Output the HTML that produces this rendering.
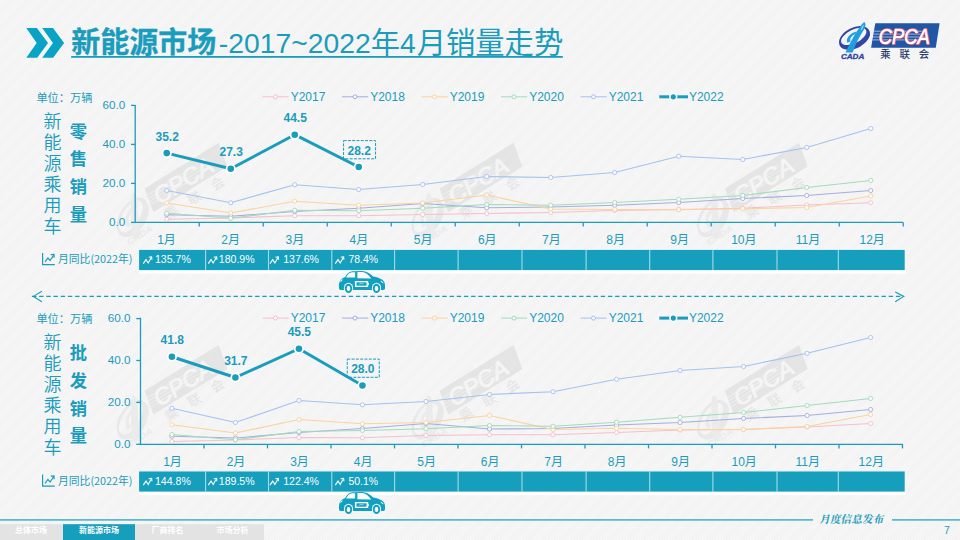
<!DOCTYPE html>
<html lang="zh"><head><meta charset="utf-8"><title>新能源市场-2017~2022年4月销量走势</title>
<style>
html,body{margin:0;padding:0;}
body{width:960px;height:540px;overflow:hidden;background:#f4f4f4;}
#s{position:relative;width:960px;height:540px;overflow:hidden;
background:repeating-linear-gradient(135deg,#f7f7f7 0,#f7f7f7 1px,#f2f2f2 1px,#f2f2f2 2px);
font-family:"Liberation Sans","Noto Sans CJK SC",sans-serif;color:#1a9cbc;}
svg text{font-family:"Liberation Sans","Noto Sans CJK SC",sans-serif;fill:#1a9cbc;}
svg text.dl{font-weight:bold;font-size:12px;}
svg text.lg{font-size:12px;}
svg text.ax{font-size:11.7px;}
svg text.mo{font-size:12px;}
svg text.tb{font-size:11px;fill:#fff;}
svg text.rl{font-size:11px;font-family:"Noto Sans CJK SC","Liberation Sans",sans-serif;}
.abs{position:absolute;white-space:nowrap;line-height:1;}
#title{left:71.3px;top:28.2px;font-size:29px;line-height:30px;height:30px;}
#title b{font-weight:bold;-webkit-text-stroke:0.3px #1a9cbc;}
#title i{font-style:normal;font-size:28.3px;}
#title u{text-decoration:none;font-size:29.3px;}
.unit{font-size:11.2px;left:36.4px;}
.v1{font-size:18px;font-weight:350;width:18px;text-align:center;line-height:21px;left:43.5px;white-space:normal;word-break:break-all;}
.v2{font-size:17.3px;font-weight:bold;width:18px;text-align:center;line-height:27.8px;left:69.3px;white-space:normal;word-break:break-all;}
.tab{font-size:8px;font-weight:bold;color:#fff;top:527.4px;width:72px;text-align:center;}
#ft{left:820px;top:513.6px;font-family:"Noto Serif CJK SC","Liberation Serif",serif;font-weight:bold;font-size:10.6px;transform:skewX(-12deg);letter-spacing:0.1px;}
#pg{left:944px;top:524.6px;font-size:10.5px;}
</style></head><body><div id="s">
<svg width="960" height="540" viewBox="0 0 960 540" style="position:absolute;left:0;top:0">
<g transform="translate(144.7 188.4) rotate(-31.7)" opacity="0.48">
<path d="M0 0 L87 0 L81.8 24.9 L-5.2 24.9Z" fill="#d4d4d4"/>
<path d="M-1.4 7.4H58M-2 10.6H58M-2.6 13.8H58M-3.2 17H58" stroke="#e8e8e8" stroke-width="1"/>
<text x="4" y="21.6" font-family="'Liberation Sans',sans-serif" font-style="italic" font-size="23" style="fill:#f6f6f6" stroke="#f6f6f6" stroke-width="0.9" textLength="66" lengthAdjust="spacingAndGlyphs">CPCA</text>
<text x="3.5" y="39" font-family="'Noto Sans CJK SC',sans-serif" font-size="13.5" font-weight="500" style="fill:#d6d6d6" letter-spacing="13.6">乘联会</text>
<g transform="rotate(-27 -25.5 18.5)"><path fill-rule="evenodd" fill="#dcdcdc" d="M-47.1 18.5a21.6 13.4 0 1 0 43.2 0a21.6 13.4 0 1 0 -43.2 0Z M-43.4 16.3a17.9 8.7 0 1 0 35.8 0a17.9 8.7 0 1 0 -35.8 0Z"/></g>
<path d="M-12.6 -2.4 C-9.6 -0.4 -11 5 -14.6 10.2 C-19.2 17.4 -23.6 26.2 -27.7 37.2 L-36.9 37.2 C-32 26.8 -27.2 17.6 -22.2 10.2 C-19 5 -16 -0.4 -12.6 -2.4Z" fill="#e2e2e2"/>
<path d="M-34.6 24.8 C-36.8 18.4 -31 12.2 -22.4 9.8 L-24.2 13.4 C-29.2 15.4 -31.6 19.2 -30.2 23.2Z" fill="#e2e2e2"/>
<text x="-43.5" y="40.2" font-family="'Liberation Sans',sans-serif" font-style="italic" font-weight="bold" font-size="8.4" style="fill:#e0e0e0" textLength="29" lengthAdjust="spacingAndGlyphs">CADA</text>
</g>

<g transform="translate(439.6 188.4) rotate(-31.7)" opacity="0.48">
<path d="M0 0 L87 0 L81.8 24.9 L-5.2 24.9Z" fill="#d4d4d4"/>
<path d="M-1.4 7.4H58M-2 10.6H58M-2.6 13.8H58M-3.2 17H58" stroke="#e8e8e8" stroke-width="1"/>
<text x="4" y="21.6" font-family="'Liberation Sans',sans-serif" font-style="italic" font-size="23" style="fill:#f6f6f6" stroke="#f6f6f6" stroke-width="0.9" textLength="66" lengthAdjust="spacingAndGlyphs">CPCA</text>
<text x="3.5" y="39" font-family="'Noto Sans CJK SC',sans-serif" font-size="13.5" font-weight="500" style="fill:#d6d6d6" letter-spacing="13.6">乘联会</text>
<g transform="rotate(-27 -25.5 18.5)"><path fill-rule="evenodd" fill="#dcdcdc" d="M-47.1 18.5a21.6 13.4 0 1 0 43.2 0a21.6 13.4 0 1 0 -43.2 0Z M-43.4 16.3a17.9 8.7 0 1 0 35.8 0a17.9 8.7 0 1 0 -35.8 0Z"/></g>
<path d="M-12.6 -2.4 C-9.6 -0.4 -11 5 -14.6 10.2 C-19.2 17.4 -23.6 26.2 -27.7 37.2 L-36.9 37.2 C-32 26.8 -27.2 17.6 -22.2 10.2 C-19 5 -16 -0.4 -12.6 -2.4Z" fill="#e2e2e2"/>
<path d="M-34.6 24.8 C-36.8 18.4 -31 12.2 -22.4 9.8 L-24.2 13.4 C-29.2 15.4 -31.6 19.2 -30.2 23.2Z" fill="#e2e2e2"/>
<text x="-43.5" y="40.2" font-family="'Liberation Sans',sans-serif" font-style="italic" font-weight="bold" font-size="8.4" style="fill:#e0e0e0" textLength="29" lengthAdjust="spacingAndGlyphs">CADA</text>
</g>

<g transform="translate(725 188.4) rotate(-31.7)" opacity="0.48">
<path d="M0 0 L87 0 L81.8 24.9 L-5.2 24.9Z" fill="#d4d4d4"/>
<path d="M-1.4 7.4H58M-2 10.6H58M-2.6 13.8H58M-3.2 17H58" stroke="#e8e8e8" stroke-width="1"/>
<text x="4" y="21.6" font-family="'Liberation Sans',sans-serif" font-style="italic" font-size="23" style="fill:#f6f6f6" stroke="#f6f6f6" stroke-width="0.9" textLength="66" lengthAdjust="spacingAndGlyphs">CPCA</text>
<text x="3.5" y="39" font-family="'Noto Sans CJK SC',sans-serif" font-size="13.5" font-weight="500" style="fill:#d6d6d6" letter-spacing="13.6">乘联会</text>
<g transform="rotate(-27 -25.5 18.5)"><path fill-rule="evenodd" fill="#dcdcdc" d="M-47.1 18.5a21.6 13.4 0 1 0 43.2 0a21.6 13.4 0 1 0 -43.2 0Z M-43.4 16.3a17.9 8.7 0 1 0 35.8 0a17.9 8.7 0 1 0 -35.8 0Z"/></g>
<path d="M-12.6 -2.4 C-9.6 -0.4 -11 5 -14.6 10.2 C-19.2 17.4 -23.6 26.2 -27.7 37.2 L-36.9 37.2 C-32 26.8 -27.2 17.6 -22.2 10.2 C-19 5 -16 -0.4 -12.6 -2.4Z" fill="#e2e2e2"/>
<path d="M-34.6 24.8 C-36.8 18.4 -31 12.2 -22.4 9.8 L-24.2 13.4 C-29.2 15.4 -31.6 19.2 -30.2 23.2Z" fill="#e2e2e2"/>
<text x="-43.5" y="40.2" font-family="'Liberation Sans',sans-serif" font-style="italic" font-weight="bold" font-size="8.4" style="fill:#e0e0e0" textLength="29" lengthAdjust="spacingAndGlyphs">CADA</text>
</g>

<g transform="translate(144.7 390.7) rotate(-31.7)" opacity="0.48">
<path d="M0 0 L87 0 L81.8 24.9 L-5.2 24.9Z" fill="#d4d4d4"/>
<path d="M-1.4 7.4H58M-2 10.6H58M-2.6 13.8H58M-3.2 17H58" stroke="#e8e8e8" stroke-width="1"/>
<text x="4" y="21.6" font-family="'Liberation Sans',sans-serif" font-style="italic" font-size="23" style="fill:#f6f6f6" stroke="#f6f6f6" stroke-width="0.9" textLength="66" lengthAdjust="spacingAndGlyphs">CPCA</text>
<text x="3.5" y="39" font-family="'Noto Sans CJK SC',sans-serif" font-size="13.5" font-weight="500" style="fill:#d6d6d6" letter-spacing="13.6">乘联会</text>
<g transform="rotate(-27 -25.5 18.5)"><path fill-rule="evenodd" fill="#dcdcdc" d="M-47.1 18.5a21.6 13.4 0 1 0 43.2 0a21.6 13.4 0 1 0 -43.2 0Z M-43.4 16.3a17.9 8.7 0 1 0 35.8 0a17.9 8.7 0 1 0 -35.8 0Z"/></g>
<path d="M-12.6 -2.4 C-9.6 -0.4 -11 5 -14.6 10.2 C-19.2 17.4 -23.6 26.2 -27.7 37.2 L-36.9 37.2 C-32 26.8 -27.2 17.6 -22.2 10.2 C-19 5 -16 -0.4 -12.6 -2.4Z" fill="#e2e2e2"/>
<path d="M-34.6 24.8 C-36.8 18.4 -31 12.2 -22.4 9.8 L-24.2 13.4 C-29.2 15.4 -31.6 19.2 -30.2 23.2Z" fill="#e2e2e2"/>
<text x="-43.5" y="40.2" font-family="'Liberation Sans',sans-serif" font-style="italic" font-weight="bold" font-size="8.4" style="fill:#e0e0e0" textLength="29" lengthAdjust="spacingAndGlyphs">CADA</text>
</g>

<g transform="translate(439.6 390.7) rotate(-31.7)" opacity="0.48">
<path d="M0 0 L87 0 L81.8 24.9 L-5.2 24.9Z" fill="#d4d4d4"/>
<path d="M-1.4 7.4H58M-2 10.6H58M-2.6 13.8H58M-3.2 17H58" stroke="#e8e8e8" stroke-width="1"/>
<text x="4" y="21.6" font-family="'Liberation Sans',sans-serif" font-style="italic" font-size="23" style="fill:#f6f6f6" stroke="#f6f6f6" stroke-width="0.9" textLength="66" lengthAdjust="spacingAndGlyphs">CPCA</text>
<text x="3.5" y="39" font-family="'Noto Sans CJK SC',sans-serif" font-size="13.5" font-weight="500" style="fill:#d6d6d6" letter-spacing="13.6">乘联会</text>
<g transform="rotate(-27 -25.5 18.5)"><path fill-rule="evenodd" fill="#dcdcdc" d="M-47.1 18.5a21.6 13.4 0 1 0 43.2 0a21.6 13.4 0 1 0 -43.2 0Z M-43.4 16.3a17.9 8.7 0 1 0 35.8 0a17.9 8.7 0 1 0 -35.8 0Z"/></g>
<path d="M-12.6 -2.4 C-9.6 -0.4 -11 5 -14.6 10.2 C-19.2 17.4 -23.6 26.2 -27.7 37.2 L-36.9 37.2 C-32 26.8 -27.2 17.6 -22.2 10.2 C-19 5 -16 -0.4 -12.6 -2.4Z" fill="#e2e2e2"/>
<path d="M-34.6 24.8 C-36.8 18.4 -31 12.2 -22.4 9.8 L-24.2 13.4 C-29.2 15.4 -31.6 19.2 -30.2 23.2Z" fill="#e2e2e2"/>
<text x="-43.5" y="40.2" font-family="'Liberation Sans',sans-serif" font-style="italic" font-weight="bold" font-size="8.4" style="fill:#e0e0e0" textLength="29" lengthAdjust="spacingAndGlyphs">CADA</text>
</g>

<g transform="translate(725 390.7) rotate(-31.7)" opacity="0.48">
<path d="M0 0 L87 0 L81.8 24.9 L-5.2 24.9Z" fill="#d4d4d4"/>
<path d="M-1.4 7.4H58M-2 10.6H58M-2.6 13.8H58M-3.2 17H58" stroke="#e8e8e8" stroke-width="1"/>
<text x="4" y="21.6" font-family="'Liberation Sans',sans-serif" font-style="italic" font-size="23" style="fill:#f6f6f6" stroke="#f6f6f6" stroke-width="0.9" textLength="66" lengthAdjust="spacingAndGlyphs">CPCA</text>
<text x="3.5" y="39" font-family="'Noto Sans CJK SC',sans-serif" font-size="13.5" font-weight="500" style="fill:#d6d6d6" letter-spacing="13.6">乘联会</text>
<g transform="rotate(-27 -25.5 18.5)"><path fill-rule="evenodd" fill="#dcdcdc" d="M-47.1 18.5a21.6 13.4 0 1 0 43.2 0a21.6 13.4 0 1 0 -43.2 0Z M-43.4 16.3a17.9 8.7 0 1 0 35.8 0a17.9 8.7 0 1 0 -35.8 0Z"/></g>
<path d="M-12.6 -2.4 C-9.6 -0.4 -11 5 -14.6 10.2 C-19.2 17.4 -23.6 26.2 -27.7 37.2 L-36.9 37.2 C-32 26.8 -27.2 17.6 -22.2 10.2 C-19 5 -16 -0.4 -12.6 -2.4Z" fill="#e2e2e2"/>
<path d="M-34.6 24.8 C-36.8 18.4 -31 12.2 -22.4 9.8 L-24.2 13.4 C-29.2 15.4 -31.6 19.2 -30.2 23.2Z" fill="#e2e2e2"/>
<text x="-43.5" y="40.2" font-family="'Liberation Sans',sans-serif" font-style="italic" font-weight="bold" font-size="8.4" style="fill:#e0e0e0" textLength="29" lengthAdjust="spacingAndGlyphs">CADA</text>
</g>

<path d="M26.3 28H36.9L48 42.9L37.2 57.7H26.3L36.7 42.9Z M42.2 28H53L64.1 42.9L53.1 57.7H42.2L53 42.9Z" fill="#09a3c6"/>
<rect x="71.2" y="56" width="491.6" height="1.8" fill="#1a9cbc"/>
<g>
<path d="M875.3 23.2 L939.6 23.2 L935.8 47.8 L871.1 47.8Z" fill="#1f56a5"/>
<g stroke="#b4c8e6" stroke-width="0.9" opacity="0.95"><path d="M874 31.2H927M873.5 34.1H927M873 37H926M872.6 39.9H926"/></g>
<text x="878.8" y="43.8" font-family="'Liberation Sans',sans-serif" font-style="italic" font-size="21.6" style="fill:#e2365a" stroke="#e2365a" stroke-width="1.9" textLength="51" lengthAdjust="spacingAndGlyphs">CPCA</text>
<text x="878.8" y="43.8" font-family="'Liberation Sans',sans-serif" font-style="italic" font-size="21.6" style="fill:#fff" stroke="#fff" stroke-width="0.7" textLength="51" lengthAdjust="spacingAndGlyphs">CPCA</text>
<text x="880.2" y="58" font-family="'Noto Sans CJK SC','WenQuanYi Zen Hei',sans-serif" font-weight="500" font-size="10.4" style="fill:#2d3c70" letter-spacing="8.9">乘联会</text>
<g transform="rotate(-27 854.3 37.6)"><path fill-rule="evenodd" fill="#3345a6" d="M837.7 38a16.6 10.3 0 1 0 33.2 0a16.6 10.3 0 1 0 -33.2 0Z M840.5 36.3a13.8 6.7 0 1 0 27.6 0a13.8 6.7 0 1 0 -27.6 0Z"/></g>
<path d="M864.2 21.9 C866.5 23.4 865.5 27.6 862.7 31.6 C859.2 37.2 855.8 44 852.6 52.4 L845.5 52.4 C849.4 44.4 853 37.4 856.8 31.6 C859.4 27.6 861.6 23.5 864.2 21.9Z" fill="#1f9fe0"/>
<path d="M847.3 42.8 C845.6 38 850 33.2 856.6 31.4 L855.2 34.2 C851.4 35.6 849.6 38.6 850.6 41.6Z" fill="#1f9fe0"/>
<path d="M863.6 24.4 C863.8 26 862.4 28.6 860.6 30.8 C861.4 28.4 862.4 26 863.6 24.4Z" fill="#eaf4fb"/>
<text x="840.9" y="58.6" font-family="'Liberation Sans',sans-serif" font-style="italic" font-weight="bold" font-size="6.8" style="fill:#3345a6" stroke="#3345a6" stroke-width="0.3" textLength="23.4" lengthAdjust="spacingAndGlyphs">CADA</text>
</g>

<line x1="262.5" y1="96.8" x2="288.7" y2="96.8" stroke="#f6bfcc" stroke-width="1"/><circle cx="275.5" cy="96.8" r="2" fill="#fbfbfb" stroke="#f6bfcc" stroke-width="1"/><text x="290.7" y="101.1" class="lg">Y2017</text><line x1="342" y1="96.8" x2="368.2" y2="96.8" stroke="#a5addf" stroke-width="1"/><circle cx="355" cy="96.8" r="2" fill="#fbfbfb" stroke="#a5addf" stroke-width="1"/><text x="370.2" y="101.1" class="lg">Y2018</text><line x1="421.5" y1="96.8" x2="447.7" y2="96.8" stroke="#fbd39c" stroke-width="1"/><circle cx="434.5" cy="96.8" r="2" fill="#fbfbfb" stroke="#fbd39c" stroke-width="1"/><text x="449.7" y="101.1" class="lg">Y2019</text><line x1="501" y1="96.8" x2="527.2" y2="96.8" stroke="#a3dbbc" stroke-width="1"/><circle cx="514" cy="96.8" r="2" fill="#fbfbfb" stroke="#a3dbbc" stroke-width="1"/><text x="529.2" y="101.1" class="lg">Y2020</text><line x1="580.5" y1="96.8" x2="606.7" y2="96.8" stroke="#a4c2f0" stroke-width="1"/><circle cx="593.5" cy="96.8" r="2" fill="#fbfbfb" stroke="#a4c2f0" stroke-width="1"/><text x="608.7" y="101.1" class="lg">Y2021</text><line x1="659.3" y1="96.8" x2="688.0" y2="96.8" stroke="#1a9cbc" stroke-width="3"/><circle cx="673.3" cy="96.8" r="3.4" fill="#1a9cbc" stroke="#fbfbfb" stroke-width="1.6"/><text x="688.9" y="101.1" class="lg">Y2022</text>

<path d="M135.2 105.0V222.4H903.2" fill="none" stroke="#1a9cbc" stroke-width="1.3"/><line x1="131.0" y1="222.4" x2="135.2" y2="222.4" stroke="#1a9cbc" stroke-width="1.3"/><text x="125.2" y="225.6" text-anchor="end" class="ax">0.0</text><line x1="131.0" y1="183.4" x2="135.2" y2="183.4" stroke="#1a9cbc" stroke-width="1.3"/><text x="125.2" y="186.6" text-anchor="end" class="ax">20.0</text><line x1="131.0" y1="144.4" x2="135.2" y2="144.4" stroke="#1a9cbc" stroke-width="1.3"/><text x="125.2" y="147.6" text-anchor="end" class="ax">40.0</text><line x1="131.0" y1="105.4" x2="135.2" y2="105.4" stroke="#1a9cbc" stroke-width="1.3"/><text x="125.2" y="108.60000000000001" text-anchor="end" class="ax">60.0</text><line x1="199.2" y1="222.4" x2="199.2" y2="226.5" stroke="#1a9cbc" stroke-width="1.3"/><line x1="263.2" y1="222.4" x2="263.2" y2="226.5" stroke="#1a9cbc" stroke-width="1.3"/><line x1="327.2" y1="222.4" x2="327.2" y2="226.5" stroke="#1a9cbc" stroke-width="1.3"/><line x1="391.2" y1="222.4" x2="391.2" y2="226.5" stroke="#1a9cbc" stroke-width="1.3"/><line x1="455.2" y1="222.4" x2="455.2" y2="226.5" stroke="#1a9cbc" stroke-width="1.3"/><line x1="519.2" y1="222.4" x2="519.2" y2="226.5" stroke="#1a9cbc" stroke-width="1.3"/><line x1="583.2" y1="222.4" x2="583.2" y2="226.5" stroke="#1a9cbc" stroke-width="1.3"/><line x1="647.2" y1="222.4" x2="647.2" y2="226.5" stroke="#1a9cbc" stroke-width="1.3"/><line x1="711.2" y1="222.4" x2="711.2" y2="226.5" stroke="#1a9cbc" stroke-width="1.3"/><line x1="775.2" y1="222.4" x2="775.2" y2="226.5" stroke="#1a9cbc" stroke-width="1.3"/><line x1="839.2" y1="222.4" x2="839.2" y2="226.5" stroke="#1a9cbc" stroke-width="1.3"/><line x1="903.2" y1="222.4" x2="903.2" y2="226.5" stroke="#1a9cbc" stroke-width="1.3"/><text x="166.50" y="243.8" text-anchor="middle" class="mo">1月</text><text x="230.65" y="243.8" text-anchor="middle" class="mo">2月</text><text x="294.80" y="243.8" text-anchor="middle" class="mo">3月</text><text x="358.95" y="243.8" text-anchor="middle" class="mo">4月</text><text x="423.10" y="243.8" text-anchor="middle" class="mo">5月</text><text x="487.25" y="243.8" text-anchor="middle" class="mo">6月</text><text x="551.40" y="243.8" text-anchor="middle" class="mo">7月</text><text x="615.55" y="243.8" text-anchor="middle" class="mo">8月</text><text x="679.70" y="243.8" text-anchor="middle" class="mo">9月</text><text x="743.85" y="243.8" text-anchor="middle" class="mo">10月</text><text x="808.00" y="243.8" text-anchor="middle" class="mo">11月</text><text x="872.15" y="243.8" text-anchor="middle" class="mo">12月</text>

<polyline points="166.75,219.25 230.75,218.00 294.75,215.75 358.75,215.75 422.75,214.50 486.75,213.50 550.75,212.50 614.75,210.50 678.75,209.50 742.75,208.25 806.75,205.00 870.75,202.75" fill="none" stroke="#f6bfcc" stroke-width="1.15"/><circle cx="166.75" cy="219.25" r="2.1" fill="#fbfbfb" stroke="#f6bfcc" stroke-width="0.9"/><circle cx="230.75" cy="218.00" r="2.1" fill="#fbfbfb" stroke="#f6bfcc" stroke-width="0.9"/><circle cx="294.75" cy="215.75" r="2.1" fill="#fbfbfb" stroke="#f6bfcc" stroke-width="0.9"/><circle cx="358.75" cy="215.75" r="2.1" fill="#fbfbfb" stroke="#f6bfcc" stroke-width="0.9"/><circle cx="422.75" cy="214.50" r="2.1" fill="#fbfbfb" stroke="#f6bfcc" stroke-width="0.9"/><circle cx="486.75" cy="213.50" r="2.1" fill="#fbfbfb" stroke="#f6bfcc" stroke-width="0.9"/><circle cx="550.75" cy="212.50" r="2.1" fill="#fbfbfb" stroke="#f6bfcc" stroke-width="0.9"/><circle cx="614.75" cy="210.50" r="2.1" fill="#fbfbfb" stroke="#f6bfcc" stroke-width="0.9"/><circle cx="678.75" cy="209.50" r="2.1" fill="#fbfbfb" stroke="#f6bfcc" stroke-width="0.9"/><circle cx="742.75" cy="208.25" r="2.1" fill="#fbfbfb" stroke="#f6bfcc" stroke-width="0.9"/><circle cx="806.75" cy="205.00" r="2.1" fill="#fbfbfb" stroke="#f6bfcc" stroke-width="0.9"/><circle cx="870.75" cy="202.75" r="2.1" fill="#fbfbfb" stroke="#f6bfcc" stroke-width="0.9"/>

<polyline points="166.75,214.75 230.75,216.25 294.75,211.50 358.75,208.25 422.75,203.50 486.75,207.75 550.75,207.00 614.75,205.25 678.75,202.50 742.75,198.50 806.75,195.50 870.75,190.50" fill="none" stroke="#a5addf" stroke-width="1.15"/><circle cx="166.75" cy="214.75" r="2.1" fill="#fbfbfb" stroke="#a5addf" stroke-width="0.9"/><circle cx="230.75" cy="216.25" r="2.1" fill="#fbfbfb" stroke="#a5addf" stroke-width="0.9"/><circle cx="294.75" cy="211.50" r="2.1" fill="#fbfbfb" stroke="#a5addf" stroke-width="0.9"/><circle cx="358.75" cy="208.25" r="2.1" fill="#fbfbfb" stroke="#a5addf" stroke-width="0.9"/><circle cx="422.75" cy="203.50" r="2.1" fill="#fbfbfb" stroke="#a5addf" stroke-width="0.9"/><circle cx="486.75" cy="207.75" r="2.1" fill="#fbfbfb" stroke="#a5addf" stroke-width="0.9"/><circle cx="550.75" cy="207.00" r="2.1" fill="#fbfbfb" stroke="#a5addf" stroke-width="0.9"/><circle cx="614.75" cy="205.25" r="2.1" fill="#fbfbfb" stroke="#a5addf" stroke-width="0.9"/><circle cx="678.75" cy="202.50" r="2.1" fill="#fbfbfb" stroke="#a5addf" stroke-width="0.9"/><circle cx="742.75" cy="198.50" r="2.1" fill="#fbfbfb" stroke="#a5addf" stroke-width="0.9"/><circle cx="806.75" cy="195.50" r="2.1" fill="#fbfbfb" stroke="#a5addf" stroke-width="0.9"/><circle cx="870.75" cy="190.50" r="2.1" fill="#fbfbfb" stroke="#a5addf" stroke-width="0.9"/>

<polyline points="166.75,203.00 230.75,213.00 294.75,201.25 358.75,205.25 422.75,203.00 486.75,195.00 550.75,209.00 614.75,209.50 678.75,209.75 742.75,208.75 806.75,207.50 870.75,196.00" fill="none" stroke="#fbd39c" stroke-width="1.15"/><circle cx="166.75" cy="203.00" r="2.1" fill="#fbfbfb" stroke="#fbd39c" stroke-width="0.9"/><circle cx="230.75" cy="213.00" r="2.1" fill="#fbfbfb" stroke="#fbd39c" stroke-width="0.9"/><circle cx="294.75" cy="201.25" r="2.1" fill="#fbfbfb" stroke="#fbd39c" stroke-width="0.9"/><circle cx="358.75" cy="205.25" r="2.1" fill="#fbfbfb" stroke="#fbd39c" stroke-width="0.9"/><circle cx="422.75" cy="203.00" r="2.1" fill="#fbfbfb" stroke="#fbd39c" stroke-width="0.9"/><circle cx="486.75" cy="195.00" r="2.1" fill="#fbfbfb" stroke="#fbd39c" stroke-width="0.9"/><circle cx="550.75" cy="209.00" r="2.1" fill="#fbfbfb" stroke="#fbd39c" stroke-width="0.9"/><circle cx="614.75" cy="209.50" r="2.1" fill="#fbfbfb" stroke="#fbd39c" stroke-width="0.9"/><circle cx="678.75" cy="209.75" r="2.1" fill="#fbfbfb" stroke="#fbd39c" stroke-width="0.9"/><circle cx="742.75" cy="208.75" r="2.1" fill="#fbfbfb" stroke="#fbd39c" stroke-width="0.9"/><circle cx="806.75" cy="207.50" r="2.1" fill="#fbfbfb" stroke="#fbd39c" stroke-width="0.9"/><circle cx="870.75" cy="196.00" r="2.1" fill="#fbfbfb" stroke="#fbd39c" stroke-width="0.9"/>

<polyline points="166.75,213.25 230.75,218.25 294.75,210.25 358.75,210.75 422.75,208.25 486.75,204.50 550.75,205.25 614.75,202.50 678.75,199.25 742.75,195.50 806.75,187.50 870.75,180.50" fill="none" stroke="#a3dbbc" stroke-width="1.15"/><circle cx="166.75" cy="213.25" r="2.1" fill="#fbfbfb" stroke="#a3dbbc" stroke-width="0.9"/><circle cx="230.75" cy="218.25" r="2.1" fill="#fbfbfb" stroke="#a3dbbc" stroke-width="0.9"/><circle cx="294.75" cy="210.25" r="2.1" fill="#fbfbfb" stroke="#a3dbbc" stroke-width="0.9"/><circle cx="358.75" cy="210.75" r="2.1" fill="#fbfbfb" stroke="#a3dbbc" stroke-width="0.9"/><circle cx="422.75" cy="208.25" r="2.1" fill="#fbfbfb" stroke="#a3dbbc" stroke-width="0.9"/><circle cx="486.75" cy="204.50" r="2.1" fill="#fbfbfb" stroke="#a3dbbc" stroke-width="0.9"/><circle cx="550.75" cy="205.25" r="2.1" fill="#fbfbfb" stroke="#a3dbbc" stroke-width="0.9"/><circle cx="614.75" cy="202.50" r="2.1" fill="#fbfbfb" stroke="#a3dbbc" stroke-width="0.9"/><circle cx="678.75" cy="199.25" r="2.1" fill="#fbfbfb" stroke="#a3dbbc" stroke-width="0.9"/><circle cx="742.75" cy="195.50" r="2.1" fill="#fbfbfb" stroke="#a3dbbc" stroke-width="0.9"/><circle cx="806.75" cy="187.50" r="2.1" fill="#fbfbfb" stroke="#a3dbbc" stroke-width="0.9"/><circle cx="870.75" cy="180.50" r="2.1" fill="#fbfbfb" stroke="#a3dbbc" stroke-width="0.9"/>

<polyline points="166.75,190.50 230.75,202.75 294.75,184.75 358.75,189.50 422.75,184.50 486.75,176.50 550.75,177.50 614.75,172.50 678.75,156.25 742.75,159.50 806.75,147.50 870.75,128.50" fill="none" stroke="#a4c2f0" stroke-width="1.15"/><circle cx="166.75" cy="190.50" r="2.1" fill="#fbfbfb" stroke="#a4c2f0" stroke-width="0.9"/><circle cx="230.75" cy="202.75" r="2.1" fill="#fbfbfb" stroke="#a4c2f0" stroke-width="0.9"/><circle cx="294.75" cy="184.75" r="2.1" fill="#fbfbfb" stroke="#a4c2f0" stroke-width="0.9"/><circle cx="358.75" cy="189.50" r="2.1" fill="#fbfbfb" stroke="#a4c2f0" stroke-width="0.9"/><circle cx="422.75" cy="184.50" r="2.1" fill="#fbfbfb" stroke="#a4c2f0" stroke-width="0.9"/><circle cx="486.75" cy="176.50" r="2.1" fill="#fbfbfb" stroke="#a4c2f0" stroke-width="0.9"/><circle cx="550.75" cy="177.50" r="2.1" fill="#fbfbfb" stroke="#a4c2f0" stroke-width="0.9"/><circle cx="614.75" cy="172.50" r="2.1" fill="#fbfbfb" stroke="#a4c2f0" stroke-width="0.9"/><circle cx="678.75" cy="156.25" r="2.1" fill="#fbfbfb" stroke="#a4c2f0" stroke-width="0.9"/><circle cx="742.75" cy="159.50" r="2.1" fill="#fbfbfb" stroke="#a4c2f0" stroke-width="0.9"/><circle cx="806.75" cy="147.50" r="2.1" fill="#fbfbfb" stroke="#a4c2f0" stroke-width="0.9"/><circle cx="870.75" cy="128.50" r="2.1" fill="#fbfbfb" stroke="#a4c2f0" stroke-width="0.9"/>

<polyline points="166.75,153.10 230.75,168.80 294.75,134.70 358.75,167.00" fill="none" stroke="#1a9cbc" stroke-width="3" stroke-linejoin="round"/><circle cx="166.75" cy="153.10" r="4.2" fill="#1a9cbc" stroke="#fff" stroke-width="1.8"/><circle cx="230.75" cy="168.80" r="4.2" fill="#1a9cbc" stroke="#fff" stroke-width="1.8"/><circle cx="294.75" cy="134.70" r="4.2" fill="#1a9cbc" stroke="#fff" stroke-width="1.8"/><circle cx="358.75" cy="167.00" r="4.2" fill="#1a9cbc" stroke="#fff" stroke-width="1.8"/><text x="167.15" y="140.70" text-anchor="middle" class="dl">35.2</text><text x="231.15" y="156.40" text-anchor="middle" class="dl">27.3</text><text x="295.15" y="122.30" text-anchor="middle" class="dl">44.5</text><rect x="343.55" y="140.60" width="32" height="18.2" fill="none" stroke="#1a9cbc" stroke-width="1" stroke-dasharray="3 1.3"/><text x="359.15" y="154.60" text-anchor="middle" class="dl">28.2</text>

<rect x="139" y="269.90000000000003" width="767" height="3.7" fill="#ffffff"/><rect x="139.1" y="249.1" width="765.6" height="1" fill="#d9eef4"/><rect x="139.1" y="250" width="765.6" height="20.1" fill="#169ebd"/><line x1="205.6" y1="250" x2="205.6" y2="270.1" stroke="#fff" stroke-opacity="0.62" stroke-width="1.1"/><line x1="268.5" y1="250" x2="268.5" y2="270.1" stroke="#fff" stroke-opacity="0.62" stroke-width="1.1"/><line x1="331.8" y1="250" x2="331.8" y2="270.1" stroke="#fff" stroke-opacity="0.62" stroke-width="1.1"/><line x1="394.6" y1="250" x2="394.6" y2="270.1" stroke="#fff" stroke-opacity="0.62" stroke-width="1.1"/><line x1="458.1" y1="250" x2="458.1" y2="270.1" stroke="#fff" stroke-opacity="0.62" stroke-width="1.1"/><line x1="522" y1="250" x2="522" y2="270.1" stroke="#fff" stroke-opacity="0.62" stroke-width="1.1"/><line x1="586.1" y1="250" x2="586.1" y2="270.1" stroke="#fff" stroke-opacity="0.62" stroke-width="1.1"/><line x1="649.7" y1="250" x2="649.7" y2="270.1" stroke="#fff" stroke-opacity="0.62" stroke-width="1.1"/><line x1="712.9" y1="250" x2="712.9" y2="270.1" stroke="#fff" stroke-opacity="0.62" stroke-width="1.1"/><line x1="777" y1="250" x2="777" y2="270.1" stroke="#fff" stroke-opacity="0.62" stroke-width="1.1"/><line x1="838.3" y1="250" x2="838.3" y2="270.1" stroke="#fff" stroke-opacity="0.62" stroke-width="1.1"/><g transform="translate(143.3 256.6)" fill="none" stroke="#fff" stroke-width="1.1" stroke-linejoin="miter"><path d="M0 7 L2.7 3 L4.9 6.4 L8.1 0.6"/><path d="M5.4 0.6 L8.3 0.2 L8.6 3.2"/></g><text x="155" y="263.3" class="tb" textLength="35.8" lengthAdjust="spacingAndGlyphs">135.7%</text><g transform="translate(208.3 256.6)" fill="none" stroke="#fff" stroke-width="1.1" stroke-linejoin="miter"><path d="M0 7 L2.7 3 L4.9 6.4 L8.1 0.6"/><path d="M5.4 0.6 L8.3 0.2 L8.6 3.2"/></g><text x="218.8" y="263.3" class="tb" textLength="35.8" lengthAdjust="spacingAndGlyphs">180.9%</text><g transform="translate(270 256.6)" fill="none" stroke="#fff" stroke-width="1.1" stroke-linejoin="miter"><path d="M0 7 L2.7 3 L4.9 6.4 L8.1 0.6"/><path d="M5.4 0.6 L8.3 0.2 L8.6 3.2"/></g><text x="283.2" y="263.3" class="tb" textLength="35.8" lengthAdjust="spacingAndGlyphs">137.6%</text><g transform="translate(335.3 256.6)" fill="none" stroke="#fff" stroke-width="1.1" stroke-linejoin="miter"><path d="M0 7 L2.7 3 L4.9 6.4 L8.1 0.6"/><path d="M5.4 0.6 L8.3 0.2 L8.6 3.2"/></g><text x="348.4" y="263.3" class="tb" textLength="29.6" lengthAdjust="spacingAndGlyphs">78.4%</text><g fill="none" stroke="#1a9cbc" stroke-width="1.2"><path d="M42.6 253.10000000000002V264.7H54.8"/><path d="M45 261.90000000000003 L47.9 257.90000000000003 L50 260.5 L53.6 255.3"/><path d="M50.8 254.70000000000002 L54 254.5 L54.2 257.7"/></g><text x="58" y="263.3" class="rl" textLength="74.5" lengthAdjust="spacingAndGlyphs">月同比(2022年)</text>

<g transform="translate(338.8 271)">
<path d="M0.3 17.6 C-0.3 13 0.6 8.6 4.2 6.9 L6.4 6.1 C8.2 2.6 10.2 0.4 13.6 0.2 L23.5 0 C27.5 0.2 30.5 2.2 34.5 5.6 C39.5 6.6 43.6 8 45.2 10.4 C46.4 12.6 46.4 15.4 46.2 17.6 C46.1 18.6 45.4 18.9 44.6 18.9 L1.8 18.9 C0.8 18.9 0.4 18.4 0.3 17.6Z" fill="#10a0c2"/>
<path d="M7.3 6.6 C8.6 3.6 10.4 1.5 13.4 1.3 L16.3 1.2 L16.3 6.6Z" fill="#fbfbfb"/>
<path d="M18.6 1.1 L23.4 1.1 C26.6 1.3 29.4 3.4 32.4 7.6 L18.6 7.2Z" fill="#fbfbfb"/>
<path d="M1.2 10.9 C1.6 9.4 2.6 8.3 4 7.9 C3.6 9.4 2.8 10.6 1.2 10.9Z" fill="#fbfbfb"/>
<path d="M41.6 9.4 C43.2 10 44.4 10.9 45 12.2 C43.4 12 42.2 11 41.6 9.4Z" fill="#fbfbfb"/>
<rect x="16.1" y="9.9" width="13.3" height="6.2" rx="0.5" fill="#fbfbfb"/><rect x="29.4" y="11.8" width="0.8" height="2.4" fill="#fbfbfb"/>
<rect x="17.7" y="11.3" width="10" height="3.4" fill="#10a0c2"/><path d="M20 13.4 L22.2 12.3 L22.6 13 L25 12.2" stroke="#fbfbfb" stroke-width="0.5" fill="none"/>
<ellipse cx="9.7" cy="17.3" rx="4.6" ry="5.6" fill="#fbfbfb"/><ellipse cx="9.7" cy="17.4" rx="3.65" ry="4.65" fill="#10a0c2"/><ellipse cx="9.7" cy="17.4" rx="1.8" ry="2.6" fill="#fbfbfb"/>
<ellipse cx="37.7" cy="17.3" rx="4.6" ry="5.6" fill="#fbfbfb"/><ellipse cx="37.7" cy="17.4" rx="3.65" ry="4.65" fill="#10a0c2"/><ellipse cx="37.7" cy="17.4" rx="1.8" ry="2.6" fill="#fbfbfb"/>
</g>

<g fill="none" stroke="#1a9cbc" stroke-width="1.1"><path d="M31.9 296.4H903" stroke-dasharray="4.4 2.8"/><path d="M41.9 291.2L33.4 296.4L41.9 301.7"/><path d="M895.2 291.9L903.8 296.4L895.2 301.7"/></g>
<line x1="262.5" y1="318.1" x2="288.7" y2="318.1" stroke="#f6bfcc" stroke-width="1"/><circle cx="275.5" cy="318.1" r="2" fill="#fbfbfb" stroke="#f6bfcc" stroke-width="1"/><text x="290.7" y="322.40000000000003" class="lg">Y2017</text><line x1="342" y1="318.1" x2="368.2" y2="318.1" stroke="#a5addf" stroke-width="1"/><circle cx="355" cy="318.1" r="2" fill="#fbfbfb" stroke="#a5addf" stroke-width="1"/><text x="370.2" y="322.40000000000003" class="lg">Y2018</text><line x1="421.5" y1="318.1" x2="447.7" y2="318.1" stroke="#fbd39c" stroke-width="1"/><circle cx="434.5" cy="318.1" r="2" fill="#fbfbfb" stroke="#fbd39c" stroke-width="1"/><text x="449.7" y="322.40000000000003" class="lg">Y2019</text><line x1="501" y1="318.1" x2="527.2" y2="318.1" stroke="#a3dbbc" stroke-width="1"/><circle cx="514" cy="318.1" r="2" fill="#fbfbfb" stroke="#a3dbbc" stroke-width="1"/><text x="529.2" y="322.40000000000003" class="lg">Y2020</text><line x1="580.5" y1="318.1" x2="606.7" y2="318.1" stroke="#a4c2f0" stroke-width="1"/><circle cx="593.5" cy="318.1" r="2" fill="#fbfbfb" stroke="#a4c2f0" stroke-width="1"/><text x="608.7" y="322.40000000000003" class="lg">Y2021</text><line x1="659.3" y1="318.1" x2="688.0" y2="318.1" stroke="#1a9cbc" stroke-width="3"/><circle cx="673.3" cy="318.1" r="3.4" fill="#1a9cbc" stroke="#fbfbfb" stroke-width="1.6"/><text x="688.9" y="322.40000000000003" class="lg">Y2022</text>

<path d="M140.5 317.8V444.3H902.7" fill="none" stroke="#1a9cbc" stroke-width="1.3"/><line x1="136.3" y1="444.3" x2="140.5" y2="444.3" stroke="#1a9cbc" stroke-width="1.3"/><text x="130.6" y="447.5" text-anchor="end" class="ax">0.0</text><line x1="136.3" y1="402.40000000000003" x2="140.5" y2="402.40000000000003" stroke="#1a9cbc" stroke-width="1.3"/><text x="130.6" y="405.6" text-anchor="end" class="ax">20.0</text><line x1="136.3" y1="360.5" x2="140.5" y2="360.5" stroke="#1a9cbc" stroke-width="1.3"/><text x="130.6" y="363.7" text-anchor="end" class="ax">40.0</text><line x1="136.3" y1="318.6" x2="140.5" y2="318.6" stroke="#1a9cbc" stroke-width="1.3"/><text x="130.6" y="321.8" text-anchor="end" class="ax">60.0</text><line x1="204.0" y1="444.3" x2="204.0" y2="448.40000000000003" stroke="#1a9cbc" stroke-width="1.3"/><line x1="267.5" y1="444.3" x2="267.5" y2="448.40000000000003" stroke="#1a9cbc" stroke-width="1.3"/><line x1="331.0" y1="444.3" x2="331.0" y2="448.40000000000003" stroke="#1a9cbc" stroke-width="1.3"/><line x1="394.5" y1="444.3" x2="394.5" y2="448.40000000000003" stroke="#1a9cbc" stroke-width="1.3"/><line x1="458.0" y1="444.3" x2="458.0" y2="448.40000000000003" stroke="#1a9cbc" stroke-width="1.3"/><line x1="521.5" y1="444.3" x2="521.5" y2="448.40000000000003" stroke="#1a9cbc" stroke-width="1.3"/><line x1="585.0" y1="444.3" x2="585.0" y2="448.40000000000003" stroke="#1a9cbc" stroke-width="1.3"/><line x1="648.5" y1="444.3" x2="648.5" y2="448.40000000000003" stroke="#1a9cbc" stroke-width="1.3"/><line x1="712.0" y1="444.3" x2="712.0" y2="448.40000000000003" stroke="#1a9cbc" stroke-width="1.3"/><line x1="775.5" y1="444.3" x2="775.5" y2="448.40000000000003" stroke="#1a9cbc" stroke-width="1.3"/><line x1="839.0" y1="444.3" x2="839.0" y2="448.40000000000003" stroke="#1a9cbc" stroke-width="1.3"/><line x1="902.5" y1="444.3" x2="902.5" y2="448.40000000000003" stroke="#1a9cbc" stroke-width="1.3"/><text x="172.50" y="465.9" text-anchor="middle" class="mo">1月</text><text x="236.02" y="465.9" text-anchor="middle" class="mo">2月</text><text x="299.54" y="465.9" text-anchor="middle" class="mo">3月</text><text x="363.06" y="465.9" text-anchor="middle" class="mo">4月</text><text x="426.58" y="465.9" text-anchor="middle" class="mo">5月</text><text x="490.10" y="465.9" text-anchor="middle" class="mo">6月</text><text x="553.62" y="465.9" text-anchor="middle" class="mo">7月</text><text x="617.14" y="465.9" text-anchor="middle" class="mo">8月</text><text x="680.66" y="465.9" text-anchor="middle" class="mo">9月</text><text x="744.18" y="465.9" text-anchor="middle" class="mo">10月</text><text x="807.70" y="465.9" text-anchor="middle" class="mo">11月</text><text x="871.22" y="465.9" text-anchor="middle" class="mo">12月</text>

<polyline points="171.90,441.50 235.42,440.00 298.94,437.50 362.46,437.75 425.98,435.50 489.50,434.75 553.02,434.75 616.54,432.50 680.06,430.00 743.58,429.50 807.10,427.00 870.62,423.50" fill="none" stroke="#f6bfcc" stroke-width="1.15"/><circle cx="171.90" cy="441.50" r="2.1" fill="#fbfbfb" stroke="#f6bfcc" stroke-width="0.9"/><circle cx="235.42" cy="440.00" r="2.1" fill="#fbfbfb" stroke="#f6bfcc" stroke-width="0.9"/><circle cx="298.94" cy="437.50" r="2.1" fill="#fbfbfb" stroke="#f6bfcc" stroke-width="0.9"/><circle cx="362.46" cy="437.75" r="2.1" fill="#fbfbfb" stroke="#f6bfcc" stroke-width="0.9"/><circle cx="425.98" cy="435.50" r="2.1" fill="#fbfbfb" stroke="#f6bfcc" stroke-width="0.9"/><circle cx="489.50" cy="434.75" r="2.1" fill="#fbfbfb" stroke="#f6bfcc" stroke-width="0.9"/><circle cx="553.02" cy="434.75" r="2.1" fill="#fbfbfb" stroke="#f6bfcc" stroke-width="0.9"/><circle cx="616.54" cy="432.50" r="2.1" fill="#fbfbfb" stroke="#f6bfcc" stroke-width="0.9"/><circle cx="680.06" cy="430.00" r="2.1" fill="#fbfbfb" stroke="#f6bfcc" stroke-width="0.9"/><circle cx="743.58" cy="429.50" r="2.1" fill="#fbfbfb" stroke="#f6bfcc" stroke-width="0.9"/><circle cx="807.10" cy="427.00" r="2.1" fill="#fbfbfb" stroke="#f6bfcc" stroke-width="0.9"/><circle cx="870.62" cy="423.50" r="2.1" fill="#fbfbfb" stroke="#f6bfcc" stroke-width="0.9"/>

<polyline points="171.90,436.25 235.42,438.00 298.94,432.50 362.46,428.50 425.98,423.50 489.50,429.00 553.02,428.50 616.54,425.00 680.06,422.50 743.58,418.50 807.10,415.50 870.62,409.50" fill="none" stroke="#a5addf" stroke-width="1.15"/><circle cx="171.90" cy="436.25" r="2.1" fill="#fbfbfb" stroke="#a5addf" stroke-width="0.9"/><circle cx="235.42" cy="438.00" r="2.1" fill="#fbfbfb" stroke="#a5addf" stroke-width="0.9"/><circle cx="298.94" cy="432.50" r="2.1" fill="#fbfbfb" stroke="#a5addf" stroke-width="0.9"/><circle cx="362.46" cy="428.50" r="2.1" fill="#fbfbfb" stroke="#a5addf" stroke-width="0.9"/><circle cx="425.98" cy="423.50" r="2.1" fill="#fbfbfb" stroke="#a5addf" stroke-width="0.9"/><circle cx="489.50" cy="429.00" r="2.1" fill="#fbfbfb" stroke="#a5addf" stroke-width="0.9"/><circle cx="553.02" cy="428.50" r="2.1" fill="#fbfbfb" stroke="#a5addf" stroke-width="0.9"/><circle cx="616.54" cy="425.00" r="2.1" fill="#fbfbfb" stroke="#a5addf" stroke-width="0.9"/><circle cx="680.06" cy="422.50" r="2.1" fill="#fbfbfb" stroke="#a5addf" stroke-width="0.9"/><circle cx="743.58" cy="418.50" r="2.1" fill="#fbfbfb" stroke="#a5addf" stroke-width="0.9"/><circle cx="807.10" cy="415.50" r="2.1" fill="#fbfbfb" stroke="#a5addf" stroke-width="0.9"/><circle cx="870.62" cy="409.50" r="2.1" fill="#fbfbfb" stroke="#a5addf" stroke-width="0.9"/>

<polyline points="171.90,424.75 235.42,433.00 298.94,419.50 362.46,423.75 425.98,422.50 489.50,415.50 553.02,429.50 616.54,428.25 680.06,429.50 743.58,429.50 807.10,426.50 870.62,414.50" fill="none" stroke="#fbd39c" stroke-width="1.15"/><circle cx="171.90" cy="424.75" r="2.1" fill="#fbfbfb" stroke="#fbd39c" stroke-width="0.9"/><circle cx="235.42" cy="433.00" r="2.1" fill="#fbfbfb" stroke="#fbd39c" stroke-width="0.9"/><circle cx="298.94" cy="419.50" r="2.1" fill="#fbfbfb" stroke="#fbd39c" stroke-width="0.9"/><circle cx="362.46" cy="423.75" r="2.1" fill="#fbfbfb" stroke="#fbd39c" stroke-width="0.9"/><circle cx="425.98" cy="422.50" r="2.1" fill="#fbfbfb" stroke="#fbd39c" stroke-width="0.9"/><circle cx="489.50" cy="415.50" r="2.1" fill="#fbfbfb" stroke="#fbd39c" stroke-width="0.9"/><circle cx="553.02" cy="429.50" r="2.1" fill="#fbfbfb" stroke="#fbd39c" stroke-width="0.9"/><circle cx="616.54" cy="428.25" r="2.1" fill="#fbfbfb" stroke="#fbd39c" stroke-width="0.9"/><circle cx="680.06" cy="429.50" r="2.1" fill="#fbfbfb" stroke="#fbd39c" stroke-width="0.9"/><circle cx="743.58" cy="429.50" r="2.1" fill="#fbfbfb" stroke="#fbd39c" stroke-width="0.9"/><circle cx="807.10" cy="426.50" r="2.1" fill="#fbfbfb" stroke="#fbd39c" stroke-width="0.9"/><circle cx="870.62" cy="414.50" r="2.1" fill="#fbfbfb" stroke="#fbd39c" stroke-width="0.9"/>

<polyline points="171.90,434.50 235.42,439.75 298.94,431.50 362.46,430.50 425.98,428.75 489.50,425.50 553.02,426.25 616.54,422.25 680.06,417.25 743.58,412.50 807.10,405.50 870.62,398.50" fill="none" stroke="#a3dbbc" stroke-width="1.15"/><circle cx="171.90" cy="434.50" r="2.1" fill="#fbfbfb" stroke="#a3dbbc" stroke-width="0.9"/><circle cx="235.42" cy="439.75" r="2.1" fill="#fbfbfb" stroke="#a3dbbc" stroke-width="0.9"/><circle cx="298.94" cy="431.50" r="2.1" fill="#fbfbfb" stroke="#a3dbbc" stroke-width="0.9"/><circle cx="362.46" cy="430.50" r="2.1" fill="#fbfbfb" stroke="#a3dbbc" stroke-width="0.9"/><circle cx="425.98" cy="428.75" r="2.1" fill="#fbfbfb" stroke="#a3dbbc" stroke-width="0.9"/><circle cx="489.50" cy="425.50" r="2.1" fill="#fbfbfb" stroke="#a3dbbc" stroke-width="0.9"/><circle cx="553.02" cy="426.25" r="2.1" fill="#fbfbfb" stroke="#a3dbbc" stroke-width="0.9"/><circle cx="616.54" cy="422.25" r="2.1" fill="#fbfbfb" stroke="#a3dbbc" stroke-width="0.9"/><circle cx="680.06" cy="417.25" r="2.1" fill="#fbfbfb" stroke="#a3dbbc" stroke-width="0.9"/><circle cx="743.58" cy="412.50" r="2.1" fill="#fbfbfb" stroke="#a3dbbc" stroke-width="0.9"/><circle cx="807.10" cy="405.50" r="2.1" fill="#fbfbfb" stroke="#a3dbbc" stroke-width="0.9"/><circle cx="870.62" cy="398.50" r="2.1" fill="#fbfbfb" stroke="#a3dbbc" stroke-width="0.9"/>

<polyline points="171.90,408.25 235.42,422.50 298.94,400.50 362.46,404.75 425.98,401.50 489.50,394.50 553.02,391.75 616.54,379.25 680.06,370.50 743.58,366.50 807.10,353.25 870.62,337.50" fill="none" stroke="#a4c2f0" stroke-width="1.15"/><circle cx="171.90" cy="408.25" r="2.1" fill="#fbfbfb" stroke="#a4c2f0" stroke-width="0.9"/><circle cx="235.42" cy="422.50" r="2.1" fill="#fbfbfb" stroke="#a4c2f0" stroke-width="0.9"/><circle cx="298.94" cy="400.50" r="2.1" fill="#fbfbfb" stroke="#a4c2f0" stroke-width="0.9"/><circle cx="362.46" cy="404.75" r="2.1" fill="#fbfbfb" stroke="#a4c2f0" stroke-width="0.9"/><circle cx="425.98" cy="401.50" r="2.1" fill="#fbfbfb" stroke="#a4c2f0" stroke-width="0.9"/><circle cx="489.50" cy="394.50" r="2.1" fill="#fbfbfb" stroke="#a4c2f0" stroke-width="0.9"/><circle cx="553.02" cy="391.75" r="2.1" fill="#fbfbfb" stroke="#a4c2f0" stroke-width="0.9"/><circle cx="616.54" cy="379.25" r="2.1" fill="#fbfbfb" stroke="#a4c2f0" stroke-width="0.9"/><circle cx="680.06" cy="370.50" r="2.1" fill="#fbfbfb" stroke="#a4c2f0" stroke-width="0.9"/><circle cx="743.58" cy="366.50" r="2.1" fill="#fbfbfb" stroke="#a4c2f0" stroke-width="0.9"/><circle cx="807.10" cy="353.25" r="2.1" fill="#fbfbfb" stroke="#a4c2f0" stroke-width="0.9"/><circle cx="870.62" cy="337.50" r="2.1" fill="#fbfbfb" stroke="#a4c2f0" stroke-width="0.9"/>

<polyline points="171.90,356.75 235.42,377.50 298.94,348.75 362.46,385.50" fill="none" stroke="#1a9cbc" stroke-width="3" stroke-linejoin="round"/><circle cx="171.90" cy="356.75" r="4.2" fill="#1a9cbc" stroke="#fff" stroke-width="1.8"/><circle cx="235.42" cy="377.50" r="4.2" fill="#1a9cbc" stroke="#fff" stroke-width="1.8"/><circle cx="298.94" cy="348.75" r="4.2" fill="#1a9cbc" stroke="#fff" stroke-width="1.8"/><circle cx="362.46" cy="385.50" r="4.2" fill="#1a9cbc" stroke="#fff" stroke-width="1.8"/><text x="172.30" y="344.35" text-anchor="middle" class="dl">41.8</text><text x="235.82" y="365.10" text-anchor="middle" class="dl">31.7</text><text x="299.34" y="336.35" text-anchor="middle" class="dl">45.5</text><rect x="347.26" y="359.10" width="32" height="18.2" fill="none" stroke="#1a9cbc" stroke-width="1" stroke-dasharray="3 1.3"/><text x="362.86" y="373.10" text-anchor="middle" class="dl">28.0</text>

<rect x="139" y="491.40000000000003" width="767" height="3.7" fill="#ffffff"/><rect x="139.1" y="470.6" width="765.6" height="1" fill="#d9eef4"/><rect x="139.1" y="471.5" width="765.6" height="20.1" fill="#169ebd"/><line x1="205.6" y1="471.5" x2="205.6" y2="491.6" stroke="#fff" stroke-opacity="0.62" stroke-width="1.1"/><line x1="268.5" y1="471.5" x2="268.5" y2="491.6" stroke="#fff" stroke-opacity="0.62" stroke-width="1.1"/><line x1="331.8" y1="471.5" x2="331.8" y2="491.6" stroke="#fff" stroke-opacity="0.62" stroke-width="1.1"/><line x1="394.6" y1="471.5" x2="394.6" y2="491.6" stroke="#fff" stroke-opacity="0.62" stroke-width="1.1"/><line x1="458.1" y1="471.5" x2="458.1" y2="491.6" stroke="#fff" stroke-opacity="0.62" stroke-width="1.1"/><line x1="522" y1="471.5" x2="522" y2="491.6" stroke="#fff" stroke-opacity="0.62" stroke-width="1.1"/><line x1="586.1" y1="471.5" x2="586.1" y2="491.6" stroke="#fff" stroke-opacity="0.62" stroke-width="1.1"/><line x1="649.7" y1="471.5" x2="649.7" y2="491.6" stroke="#fff" stroke-opacity="0.62" stroke-width="1.1"/><line x1="712.9" y1="471.5" x2="712.9" y2="491.6" stroke="#fff" stroke-opacity="0.62" stroke-width="1.1"/><line x1="777" y1="471.5" x2="777" y2="491.6" stroke="#fff" stroke-opacity="0.62" stroke-width="1.1"/><line x1="838.3" y1="471.5" x2="838.3" y2="491.6" stroke="#fff" stroke-opacity="0.62" stroke-width="1.1"/><g transform="translate(143.3 478.1)" fill="none" stroke="#fff" stroke-width="1.1" stroke-linejoin="miter"><path d="M0 7 L2.7 3 L4.9 6.4 L8.1 0.6"/><path d="M5.4 0.6 L8.3 0.2 L8.6 3.2"/></g><text x="155" y="484.8" class="tb" textLength="35.8" lengthAdjust="spacingAndGlyphs">144.8%</text><g transform="translate(208.3 478.1)" fill="none" stroke="#fff" stroke-width="1.1" stroke-linejoin="miter"><path d="M0 7 L2.7 3 L4.9 6.4 L8.1 0.6"/><path d="M5.4 0.6 L8.3 0.2 L8.6 3.2"/></g><text x="218.8" y="484.8" class="tb" textLength="35.8" lengthAdjust="spacingAndGlyphs">189.5%</text><g transform="translate(270 478.1)" fill="none" stroke="#fff" stroke-width="1.1" stroke-linejoin="miter"><path d="M0 7 L2.7 3 L4.9 6.4 L8.1 0.6"/><path d="M5.4 0.6 L8.3 0.2 L8.6 3.2"/></g><text x="283.2" y="484.8" class="tb" textLength="35.8" lengthAdjust="spacingAndGlyphs">122.4%</text><g transform="translate(335.3 478.1)" fill="none" stroke="#fff" stroke-width="1.1" stroke-linejoin="miter"><path d="M0 7 L2.7 3 L4.9 6.4 L8.1 0.6"/><path d="M5.4 0.6 L8.3 0.2 L8.6 3.2"/></g><text x="348.4" y="484.8" class="tb" textLength="29.6" lengthAdjust="spacingAndGlyphs">50.1%</text><g fill="none" stroke="#1a9cbc" stroke-width="1.2"><path d="M42.6 474.6V486.2H54.8"/><path d="M45 483.40000000000003 L47.9 479.40000000000003 L50 482.0 L53.6 476.8"/><path d="M50.8 476.2 L54 476.0 L54.2 479.2"/></g><text x="58" y="484.8" class="rl" textLength="74.5" lengthAdjust="spacingAndGlyphs">月同比(2022年)</text>

<g transform="translate(338.8 492)">
<path d="M0.3 17.6 C-0.3 13 0.6 8.6 4.2 6.9 L6.4 6.1 C8.2 2.6 10.2 0.4 13.6 0.2 L23.5 0 C27.5 0.2 30.5 2.2 34.5 5.6 C39.5 6.6 43.6 8 45.2 10.4 C46.4 12.6 46.4 15.4 46.2 17.6 C46.1 18.6 45.4 18.9 44.6 18.9 L1.8 18.9 C0.8 18.9 0.4 18.4 0.3 17.6Z" fill="#10a0c2"/>
<path d="M7.3 6.6 C8.6 3.6 10.4 1.5 13.4 1.3 L16.3 1.2 L16.3 6.6Z" fill="#fbfbfb"/>
<path d="M18.6 1.1 L23.4 1.1 C26.6 1.3 29.4 3.4 32.4 7.6 L18.6 7.2Z" fill="#fbfbfb"/>
<path d="M1.2 10.9 C1.6 9.4 2.6 8.3 4 7.9 C3.6 9.4 2.8 10.6 1.2 10.9Z" fill="#fbfbfb"/>
<path d="M41.6 9.4 C43.2 10 44.4 10.9 45 12.2 C43.4 12 42.2 11 41.6 9.4Z" fill="#fbfbfb"/>
<rect x="16.1" y="9.9" width="13.3" height="6.2" rx="0.5" fill="#fbfbfb"/><rect x="29.4" y="11.8" width="0.8" height="2.4" fill="#fbfbfb"/>
<rect x="17.7" y="11.3" width="10" height="3.4" fill="#10a0c2"/><path d="M20 13.4 L22.2 12.3 L22.6 13 L25 12.2" stroke="#fbfbfb" stroke-width="0.5" fill="none"/>
<ellipse cx="9.7" cy="17.3" rx="4.6" ry="5.6" fill="#fbfbfb"/><ellipse cx="9.7" cy="17.4" rx="3.65" ry="4.65" fill="#10a0c2"/><ellipse cx="9.7" cy="17.4" rx="1.8" ry="2.6" fill="#fbfbfb"/>
<ellipse cx="37.7" cy="17.3" rx="4.6" ry="5.6" fill="#fbfbfb"/><ellipse cx="37.7" cy="17.4" rx="3.65" ry="4.65" fill="#10a0c2"/><ellipse cx="37.7" cy="17.4" rx="1.8" ry="2.6" fill="#fbfbfb"/>
</g>

<path d="M0 519.8H813M892 519.8H960" stroke="#58b9d1" stroke-width="1.8"/>
<rect x="0" y="524.2" width="264" height="16" fill="#e3e3e3"/>
<rect x="63" y="524.2" width="72" height="16" fill="#169ebd"/>
</svg>
<div class="abs" id="title"><b>新能源市场</b><i style="margin-left:2.5px">-2017~2022</i><u>年</u><i>4</i><u style="margin-left:1px">月销量走势</u></div>
<div class="abs unit" style="top:93.3px">单位：万辆</div>
<div class="abs v1" style="top:111.5px">新能源乘用车</div>
<div class="abs v2" style="top:118.7px">零售销量</div>
<div class="abs unit" style="top:314.3px">单位：万辆</div>
<div class="abs v1" style="top:332.9px">新能源乘用车</div>
<div class="abs v2" style="top:340.1px">批发销量</div>
<div class="abs tab" style="left:-5px">总体市场</div>
<div class="abs tab" style="left:63px">新能源市场</div>
<div class="abs tab" style="left:131.6px">厂商排名</div>
<div class="abs tab" style="left:196.6px">市场分析</div>
<div class="abs" id="ft">月度信息发布</div>
<div class="abs" id="pg">7</div>
</div></body></html>
